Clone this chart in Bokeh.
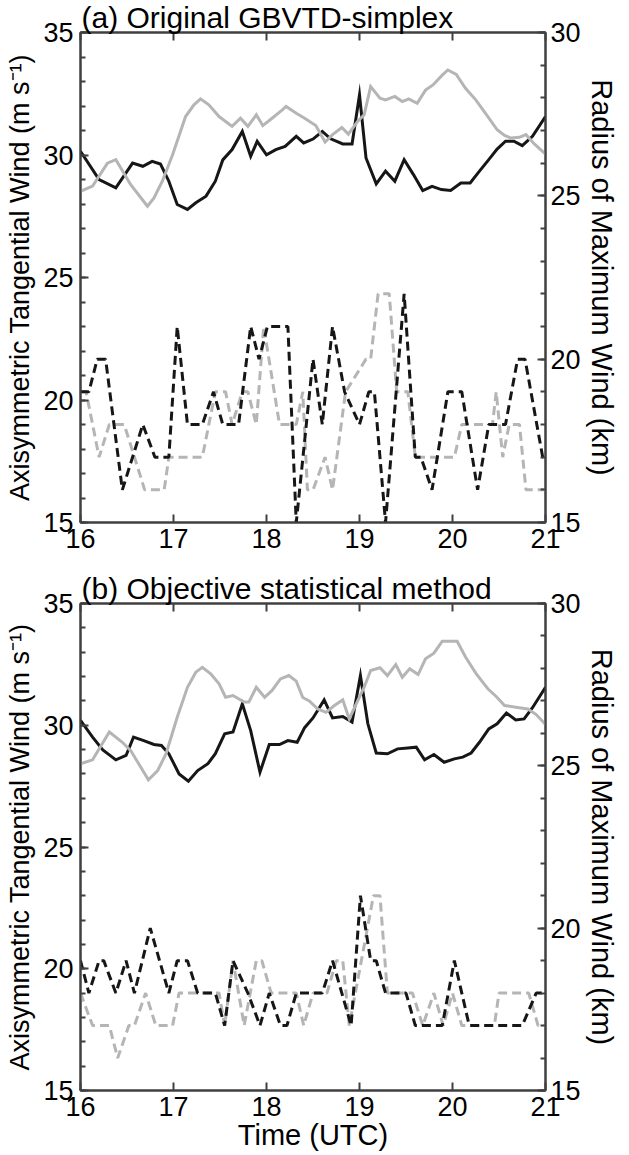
from bokeh.plotting import figure
from bokeh.models import Range1d, LinearAxis, SingleIntervalTicker, CustomJSTickFormatter
from bokeh.layouts import column
from bokeh.embed import file_html
from bokeh.resources import INLINE

# ---------------- data ----------------
TIME_RANGE = [16, 21]
WIND_RANGE = [15, 35]
RMW_RANGE = [15, 30]

# Panel (a): Original GBVTD-simplex
a_wind_black_t = [16.0, 16.2, 16.38, 16.56, 16.67, 16.77, 16.86, 16.95, 17.04, 17.15,
                  17.24, 17.35, 17.45, 17.53, 17.63, 17.74, 17.83, 17.9, 18.0, 18.1,
                  18.2, 18.32, 18.4, 18.5, 18.6, 18.69, 18.82, 18.92, 19.0, 19.07,
                  19.18, 19.28, 19.38, 19.48, 19.58, 19.68, 19.78, 19.88, 19.98, 20.09,
                  20.19, 20.29, 20.39, 20.48, 20.57, 20.66, 20.75, 20.86, 21.0]
a_wind_black = [30.15, 29.0, 28.66, 29.67, 29.54, 29.74, 29.63, 28.93, 27.98, 27.78,
                28.05, 28.32, 28.93, 29.8, 30.22, 30.96, 29.95, 30.56, 30.01, 30.22,
                30.35, 30.76, 30.49, 30.65, 30.96, 30.66, 30.45, 30.45, 32.45, 29.88,
                28.82, 29.34, 28.93, 29.81, 29.2, 28.55, 28.72, 28.59, 28.55, 28.86,
                28.86, 29.34, 29.81, 30.24, 30.56, 30.56, 30.38, 30.76, 31.57]

a_wind_gray_t = [16.0, 16.13, 16.29, 16.38, 16.54, 16.72, 16.79, 16.88, 16.99, 17.13,
                 17.22, 17.29, 17.38, 17.49, 17.63, 17.72, 17.8, 17.89, 17.96, 18.06,
                 18.17, 18.21, 18.32, 18.41, 18.53, 18.63, 18.71, 18.81, 18.88, 18.98,
                 19.05, 19.12, 19.22, 19.28, 19.38, 19.46, 19.53, 19.62, 19.71, 19.79,
                 19.89, 19.95, 20.04, 20.14, 20.25, 20.38, 20.48, 20.56, 20.63, 20.72,
                 20.79, 20.88, 21.0]
a_wind_gray = [28.52, 28.73, 29.67, 29.81, 28.79, 27.91, 28.25, 28.93, 30.01, 31.57,
               32.05, 32.29, 32.05, 31.57, 31.17, 31.5, 31.17, 31.64, 31.2, 31.5,
               31.84, 31.98, 31.7, 31.5, 31.2, 30.53, 30.83, 31.12, 30.85, 31.37,
               31.64, 32.79, 32.32, 32.25, 32.39, 32.18, 32.29, 32.11, 32.65, 32.86,
               33.26, 33.47, 33.29, 32.72, 32.25, 31.57, 31.03, 30.8, 30.69, 30.72,
               30.83, 30.45, 30.04]

a_rmw_black_t = [16.0, 16.09, 16.18, 16.27, 16.45, 16.67, 16.8, 16.95, 17.04, 17.15,
                 17.31, 17.43, 17.53, 17.7, 17.83, 17.92, 18.01, 18.23, 18.32, 18.5,
                 18.6, 18.71, 18.84, 19.0, 19.1, 19.16, 19.28, 19.48, 19.6, 19.66,
                 19.78, 19.95, 20.1, 20.27, 20.39, 20.57, 20.7, 20.78, 20.97, 21.0]
a_rmw_black = [19, 19, 20, 20, 16, 18, 17, 17, 21, 18,
               18, 19, 18, 18, 21, 20, 21, 21, 15, 20,
               18, 21, 19, 18, 19, 19, 15, 22, 17, 17,
               16, 19, 19, 16, 18, 18, 20, 20, 17, 17]

a_rmw_gray_t = [16.0, 16.06, 16.2, 16.31, 16.47, 16.69, 16.9, 16.95, 17.31, 17.45,
                17.56, 17.63, 17.74, 17.8, 17.89, 17.97, 18.14, 18.32, 18.39, 18.44,
                18.5, 18.63, 18.71, 18.85, 19.07, 19.12, 19.2, 19.32, 19.4, 19.52,
                19.6, 20.02, 20.1, 20.43, 20.47, 20.54, 20.61, 20.72, 20.79, 21.0]
a_rmw_gray = [19, 19, 17, 18, 18, 16, 16, 17, 17, 19,
              19, 18, 19, 19, 18, 21, 18, 18, 19, 16,
              16, 17, 16, 19, 20, 20, 22, 22, 19, 19,
              17, 17, 18, 18, 19, 17, 18, 18, 16, 16]

# Panel (b): Objective statistical method
b_wind_black_t = [16.0, 16.13, 16.24, 16.38, 16.49, 16.57, 16.68, 16.79, 16.87, 16.95,
                  17.06, 17.16, 17.26, 17.37, 17.45, 17.55, 17.64, 17.74, 17.83, 17.93,
                  18.03, 18.14, 18.23, 18.33, 18.41, 18.5, 18.62, 18.71, 18.82, 18.92,
                  19.01, 19.09, 19.18, 19.3, 19.41, 19.52, 19.61, 19.7, 19.8, 19.91,
                  20.02, 20.11, 20.2, 20.29, 20.39, 20.48, 20.58, 20.68, 20.77, 20.86,
                  21.0]
b_wind_black = [30.2, 29.51, 28.99, 28.58, 28.76, 29.51, 29.37, 29.21, 29.17, 28.83,
                28.0, 27.7, 28.14, 28.42, 28.83, 29.65, 29.72, 30.88, 29.78, 28.07,
                29.21, 29.21, 29.37, 29.3, 29.9, 30.3, 31.04, 30.3, 30.36, 30.13,
                32.04, 30.06, 28.86, 28.83, 29.03, 29.07, 29.1, 28.58, 28.8, 28.48,
                28.62, 28.69, 28.86, 29.3, 29.85, 30.06, 30.5, 30.22, 30.26, 30.72,
                31.56]

b_wind_gray_t = [16.0, 16.13, 16.31, 16.45, 16.54, 16.73, 16.83, 16.92, 17.04, 17.15,
                 17.24, 17.31, 17.4, 17.49, 17.56, 17.64, 17.76, 17.81, 17.89, 17.98,
                 18.06, 18.15, 18.24, 18.32, 18.39, 18.46, 18.55, 18.64, 18.73, 18.82,
                 18.89, 18.98, 19.05, 19.12, 19.22, 19.3, 19.39, 19.46, 19.54, 19.63,
                 19.71, 19.8, 19.89, 20.05, 20.14, 20.25, 20.38, 20.47, 20.56, 20.68,
                 20.81, 20.9, 21.0]
b_wind_gray = [28.42, 28.58, 29.72, 29.3, 28.96, 27.76, 28.14, 28.83, 30.33, 31.56,
               32.18, 32.38, 32.11, 31.7, 31.15, 31.22, 30.95, 30.95, 31.56, 31.15,
               31.43, 31.9, 32.04, 31.81, 31.14, 31.0, 30.67, 30.53, 30.81, 31.04,
               30.26, 31.0, 31.56, 32.25, 32.36, 32.04, 32.49, 31.97, 32.32, 32.08,
               32.73, 32.96, 33.45, 33.45, 32.8, 32.14, 31.5, 31.18, 30.81, 30.74,
               30.67, 30.44, 30.03]

b_rmw_black_t = [16.0, 16.09, 16.2, 16.25, 16.38, 16.49, 16.58, 16.75, 16.95, 17.04,
                 17.15, 17.26, 17.45, 17.55, 17.64, 17.8, 17.93, 18.03, 18.15, 18.22,
                 18.32, 18.6, 18.71, 18.91, 19.01, 19.12, 19.18, 19.28, 19.5, 19.6,
                 19.89, 20.02, 20.18, 20.75, 20.9, 21.0]
b_rmw_black = [19, 18, 19, 19, 18, 19, 18, 20, 18, 19,
               19, 18, 18, 17, 19, 18, 17, 18, 17, 17,
               18, 18, 19, 17, 21, 19, 19, 18, 18, 17,
               17, 19, 17, 17, 18, 18]

b_rmw_gray_t = [16.0, 16.13, 16.31, 16.4, 16.52, 16.58, 16.7, 16.81, 16.99, 17.06,
                17.49, 17.55, 17.64, 17.76, 17.89, 17.95, 18.05, 18.32, 18.4, 18.5,
                18.65, 18.75, 18.82, 18.89, 19.15, 19.22, 19.3, 19.57, 19.68, 19.8,
                19.9, 20.0, 20.1, 20.45, 20.5, 20.82, 20.92, 21.0]
b_rmw_gray = [18, 17, 17, 16, 17, 17, 18, 17, 17, 18,
              18, 17, 19, 17, 19, 19, 18, 18, 17, 18,
              18, 19, 19, 17, 21, 21, 18, 18, 17, 18,
              17, 18, 17, 17, 18, 18, 17, 17]

TITLE_A = "(a) Original GBVTD-simplex"
TITLE_B = "(b) Objective statistical method"
YLABEL_LEFT = "Axisymmetric Tangential Wind (m s\u207b\u00b9)"
YLABEL_RIGHT = "Radius of Maximum Wind (km)"
XLABEL = "Time (UTC)"

# ---------------- style ----------------
FONT = "Liberation Sans"
BLACK = "#161616"
GRAY = "#b5b5b5"
AXC = "#404040"


def style_axis(ax, label_size="27px"):
    ax.axis_line_color = AXC
    ax.axis_line_width = 2
    ax.major_tick_line_color = AXC
    ax.major_tick_line_width = 2
    ax.minor_tick_line_color = AXC
    ax.minor_tick_line_width = 2
    ax.major_tick_in = 8
    ax.major_tick_out = 0
    ax.minor_tick_in = 5
    ax.minor_tick_out = 0
    ax.major_label_text_font = FONT
    ax.major_label_text_font_size = "27px"
    ax.major_label_text_color = "black"
    ax.axis_label_text_font = FONT
    ax.axis_label_text_font_size = label_size
    ax.axis_label_text_font_style = "normal"
    ax.axis_label_text_color = "black"


def make_panel(title, wbt, wb, wgt, wg, rbt, rb, rgt, rg, frame_h, bottom, xlabel=None):
    p = figure(frame_width=465, frame_height=frame_h,
               x_range=Range1d(*TIME_RANGE), y_range=Range1d(*WIND_RANGE),
               output_backend="svg", toolbar_location=None, title=title,
               min_border_left=80, min_border_right=0,
               min_border_top=0, min_border_bottom=bottom)
    p.title.text_font = FONT
    p.title.text_font_size = "30px"
    p.title.text_font_style = "normal"
    p.title.text_color = "black"
    p.title.align = "left"
    p.title.offset = 1
    p.title.standoff = -3

    p.extra_y_ranges = {"rmw": Range1d(*RMW_RANGE)}
    p.grid.visible = False
    p.outline_line_color = AXC
    p.outline_line_width = 2
    p.background_fill_color = "white"
    p.border_fill_color = "white"

    xa = p.xaxis[0]
    xa.ticker = SingleIntervalTicker(interval=1, num_minor_ticks=0)
    style_axis(xa, "29px")
    xa.major_label_standoff = 6
    if xlabel:
        xa.axis_label = xlabel
        xa.axis_label_standoff = 0

    ya = p.yaxis[0]
    ya.ticker = SingleIntervalTicker(interval=5, num_minor_ticks=5)
    style_axis(ya, "27px")
    ya.axis_label = YLABEL_LEFT
    ya.major_label_standoff = 7
    ya.axis_label_standoff = 5

    ra = LinearAxis(y_range_name="rmw",
                    ticker=SingleIntervalTicker(interval=5, num_minor_ticks=5),
                    axis_label=YLABEL_RIGHT)
    style_axis(ra, "29px")
    ra.major_label_standoff = 5
    ra.axis_label_standoff = 2
    p.add_layout(ra, "right")

    ta = LinearAxis(ticker=SingleIntervalTicker(interval=1, num_minor_ticks=0),
                    formatter=CustomJSTickFormatter(code="return ''"))
    style_axis(ta)
    ta.major_label_text_font_size = "1px"
    ta.major_label_standoff = 0
    p.add_layout(ta, "above")

    p.line(wbt, wb, line_color=BLACK, line_width=3, line_join="miter")
    p.line(wgt, wg, line_color=GRAY, line_width=3, line_join="miter")
    p.line(rgt, rg, y_range_name="rmw", line_color=GRAY, line_width=3, line_dash="9 5")
    p.line(rbt, rb, y_range_name="rmw", line_color=BLACK, line_width=3, line_dash="9 5")
    return p


pa = make_panel(TITLE_A, a_wind_black_t, a_wind_black, a_wind_gray_t, a_wind_gray,
                a_rmw_black_t, a_rmw_black, a_rmw_gray_t, a_rmw_gray,
                frame_h=490, bottom=49)
pb = make_panel(TITLE_B, b_wind_black_t, b_wind_black, b_wind_gray_t, b_wind_gray,
                b_rmw_black_t, b_rmw_black, b_rmw_gray_t, b_rmw_gray,
                frame_h=487, bottom=0, xlabel=XLABEL)

layout = column(pa, pb, spacing=0)
open("out.html", "w").write(file_html(layout, INLINE, title="GBVTD RMW"))
